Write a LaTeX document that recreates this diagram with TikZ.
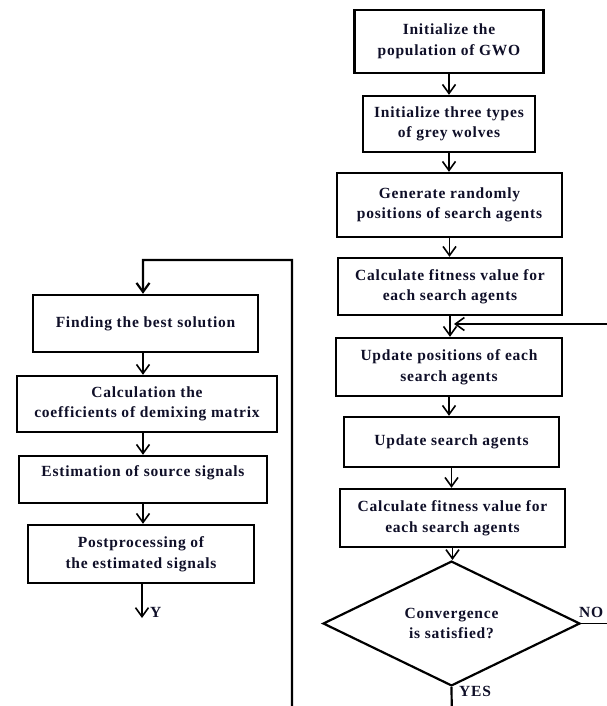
\documentclass[tikz,border=0pt]{standalone}
\usepackage{fontspec}
\setmainfont[LetterSpace=5]{Liberation Serif}
\usetikzlibrary{arrows.meta,shapes.geometric}
\definecolor{txt}{RGB}{15,15,40}
\tikzset{
  box/.style={draw=black, line width=2.4pt, rectangle, inner sep=0pt, align=center,
    font=\fontsize{15.5}{20.5}\selectfont\bfseries, text=txt},
  dia/.style={draw=black, line width=2.2pt, diamond, inner sep=0pt, align=center,
    font=\fontsize{15.5}{20.5}\selectfont\bfseries, text=txt},
  lbl/.style={font=\fontsize{15.5}{17}\selectfont\bfseries, text=txt, inner sep=0pt},
  arr/.style={line width=1.6pt, -{Straight Barb[length=9pt,width=13pt]}},
  loop/.style={line width=2.2pt}
}
\begin{document}
\begin{tikzpicture}[x=1pt,y=-1pt]
\clip (0,0) rectangle (607,706);
\fill[white] (0,0) rectangle (607,706);
% right column
\node[box, minimum width=189, minimum height=63] (b1) at (449,41.5) {Initialize the\\population of GWO};
\node[box, minimum width=172, minimum height=56] (b2) at (449,124) {Initialize three types\\of grey wolves};
\node[box, minimum width=225, minimum height=64] (b3) at (449.5,205) {Generate randomly\\positions of search agents};
\node[box, minimum width=224, minimum height=57] (b4) at (450,286.5) {Calculate fitness value for\\each search agents};
\node[box, minimum width=226, minimum height=58] (b5) at (449,367) {Update positions of each\\search agents};
\node[box, minimum width=215, minimum height=50] (b6) at (451.5,442) {Update search agents};
\node[box, minimum width=225, minimum height=58] (b7) at (452.5,518) {Calculate fitness value for\\each search agents};
\node[dia, minimum width=257, minimum height=109] (d) at (451.5,623.5) {Convergence\\is satisfied?};
% left column
\node[box, minimum width=225, minimum height=57] (l1) at (145.5,323.5) {Finding the best solution};
\node[box, minimum width=260, minimum height=56] (l2) at (147,404) {Calculation the\\coefficients of demixing matrix};
\node[box, minimum width=248, minimum height=47] (l3) at (143,479.5) {\raisebox{6pt}[0.7em][0.25em]{Estimation of source signals}};
\node[box, minimum width=226, minimum height=58] (l4) at (141,554) {Postprocessing of\\the estimated signals};
% arrows right column
\draw[arr] (b1.south) -- (b1.south |- b2.north);
\draw[arr] (b2.south) -- (b2.south |- b3.north);
\draw[arr] (b3.south) -- (b3.south |- b4.north);
\draw[arr] (b4.south) -- (b4.south |- b5.north);
\draw[arr] (b5.south) -- (b5.south |- b6.north);
\draw[arr] (b6.south) -- (b6.south |- b7.north);
\draw[arr] (b7.south) -- (b7.south |- d.north);
% feedback NO
\coordinate (noR) at (625,623.5);
\coordinate (fbR) at (625,324);
\coordinate (fbIn) at (454,324);
\draw[arr] (d.east) -- (noR) -- (fbR) -- (fbIn);
\node[lbl, anchor=south west] (no) at (579,618) {NO};
% YES loop to left column
\coordinate (yb) at (452,730);
\coordinate (lb) at (292,730);
\coordinate (lt) at (292,260);
\coordinate (lp) at (143,260);
\draw[loop, -{Straight Barb[length=9pt,width=13pt]}] (d.south) -- (yb) -- (lb) -- (lt) -- (lp) -- (l1.north -| lp);
\node[lbl, anchor=west] (yes) at (459,691) {YES};
% arrows left column
\draw[arr] (l1.south -| lp) -- (l2.north -| lp);
\draw[arr] (l2.south -| lp) -- (l3.north -| lp);
\draw[arr] (l3.south -| lp) -- (l4.north -| lp);
\coordinate (yend) at (142,618);
\draw[arr] (l4.south -| yend) -- (yend);
\node[lbl, anchor=west] (y) at (150,612) {Y};
\end{tikzpicture}
\end{document}
